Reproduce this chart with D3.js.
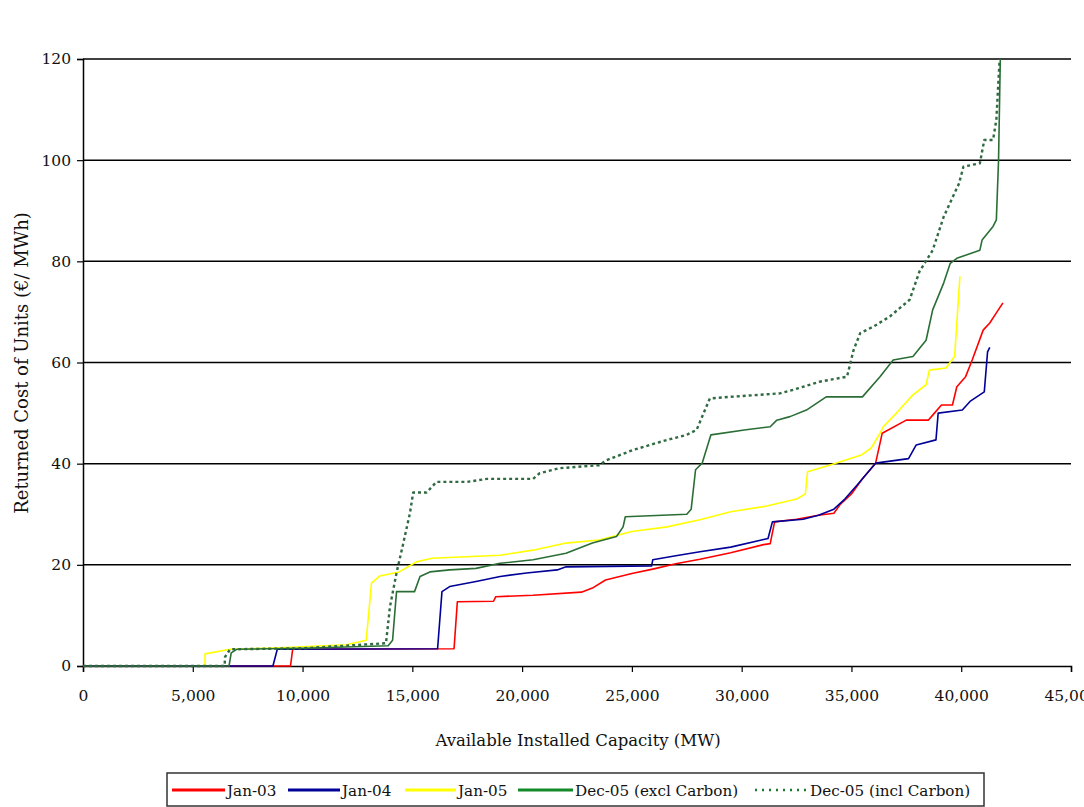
<!DOCTYPE html>
<html>
<head>
<meta charset="utf-8">
<script src="https://cdn.jsdelivr.net/npm/d3@7/dist/d3.min.js"></script>
<style>
  html, body { margin: 0; padding: 0; background: #fff; }
  svg { display: block; }
  text { font-family: "DejaVu Serif", "Liberation Serif", serif; fill: #111; }
</style>
</head>
<body>
<svg id="chart" width="1084" height="807"></svg>
<script>
// ---- Data (MW, €/MWh) ----
const seriesNames = ["Jan-03", "Jan-04", "Jan-05", "Dec-05 (excl Carbon)", "Dec-05 (incl Carbon)"];
const xTicks = [0, 5000, 10000, 15000, 20000, 25000, 30000, 35000, 40000, 45000];
const yTicks = [0, 20, 40, 60, 80, 100, 120];

const jan03 = [[0,0],[9450,0],[9550,3.3],[16900,3.4],[17050,12.7],[18700,12.8],[18800,13.7],[20500,14],[22700,14.6],[23200,15.4],[23800,17],[25000,18.3],[26000,19.2],[27000,20.2],[28100,21.1],[29500,22.4],[31000,24],[31300,24.2],[31500,28.5],[32500,29],[33500,29.8],[34200,30.2],[34500,32],[35000,34],[35500,37],[36100,40.1],[36400,46],[37500,48.6],[38500,48.6],[38700,49.6],[39100,51.6],[39600,51.6],[39800,55.2],[40200,57.2],[40500,60.5],[41000,66.4],[41300,67.8],[41600,69.8],[41900,71.8]];

const jan04 = [[0,0],[8650,0],[8850,3.3],[16150,3.4],[16350,14.7],[16700,15.7],[17900,16.7],[19000,17.7],[20200,18.4],[21600,19],[22000,19.6],[25900,19.8],[25950,21],[27000,21.8],[28100,22.6],[29500,23.5],[31000,25],[31200,25.2],[31400,28.5],[32800,29],[33500,29.8],[34200,31],[34700,33],[35300,36],[36100,40.1],[37600,41],[37950,43.7],[38850,44.7],[38950,50],[40050,50.6],[40400,52.3],[41050,54.2],[41200,62.1],[41300,63]];

const jan05 = [[0,0],[5550,0],[5560,2.4],[6700,3.3],[9000,3.6],[12000,4.2],[12900,5.1],[13140,16.4],[13520,17.8],[14400,18.6],[15200,20.6],[15900,21.3],[19000,21.9],[20500,22.9],[22000,24.3],[23500,24.9],[25000,26.6],[26600,27.5],[28100,28.9],[29500,30.5],[31000,31.5],[32500,33],[32900,34],[33000,38.4],[34000,39.7],[35450,41.7],[35900,43.1],[36300,46],[36450,47.3],[37050,50],[37800,53.6],[38400,55.6],[38550,58.5],[39300,58.9],[39700,61.2],[39940,77]];

const dec05excl = [[0,0],[6650,0],[6750,2.6],[7000,3.3],[10000,3.5],[13900,4],[14100,5.1],[14280,14.7],[15100,14.7],[15350,17.7],[15800,18.6],[16700,19],[17900,19.3],[19000,20.3],[20500,21],[22000,22.3],[23200,24.3],[24300,25.6],[24600,27.5],[24700,29.5],[27500,30],[27700,31],[27900,38.8],[28200,40.1],[28600,45.7],[30200,46.7],[31300,47.3],[31600,48.6],[32200,49.3],[32950,50.6],[33850,53.2],[35500,53.2],[36300,57.2],[36900,60.5],[37800,61.2],[38400,64.4],[38700,70.4],[39200,75.7],[39500,79.6],[39800,80.6],[40850,82.2],[40950,84.2],[41450,86.9],[41600,88.2],[41700,100],[41780,120]];

const dec05incl = [[0,0],[6450,0],[6470,1.8],[6700,3.3],[10000,3.5],[13800,4.5],[13980,11.7],[14280,18.4],[14590,24.3],[14890,30.2],[15040,34.3],[15650,34.3],[16100,36.4],[17500,36.4],[18400,37],[20500,37],[20800,38.1],[21700,39.1],[23500,39.7],[23850,40.7],[25050,42.7],[26600,44.7],[27500,45.7],[27950,46.7],[28550,52.9],[29450,53.2],[31750,53.9],[32350,54.6],[33550,56.2],[34800,57.2],[35100,62.5],[35400,65.8],[36000,67.1],[36750,69.1],[37650,72.4],[38100,78],[38700,82.2],[39200,88.8],[39900,95.4],[40100,98.7],[40850,99.4],[41050,104],[41450,104],[41600,108],[41750,120]];

// ---- Layout & style ----
const colors = ["#ff0000", "#000099", "#ffff00", "#2a6e35", "#2f6a40"];
const svg = d3.select("#chart");
const mLeft = 83, mRight = 1071, mTop = 59, mBottom = 666;

const x = d3.scaleLinear().domain([0, 45000]).range([mLeft, mRight]);
const y = d3.scaleLinear().domain([0, 120]).range([mBottom, mTop]);

// gridlines
svg.append("g").selectAll("line").data(yTicks.filter(d => d > 0)).join("line")
  .attr("x1", mLeft).attr("x2", mRight)
  .attr("y1", d => y(d)).attr("y2", d => y(d))
  .attr("stroke", "#000").attr("stroke-width", 1.5);

// axes
const yAxis = svg.append("g").attr("transform", `translate(${mLeft},0)`)
  .call(d3.axisLeft(y).tickValues(yTicks).tickSize(6).tickPadding(6).tickFormat(d3.format("d")));
const xAxis = svg.append("g").attr("transform", `translate(0,${mBottom})`)
  .call(d3.axisBottom(x).tickValues(xTicks).tickSize(6).tickPadding(18).tickFormat(d3.format(",")));
[yAxis, xAxis].forEach(g => {
  g.select(".domain").attr("stroke", "#000").attr("stroke-width", 1.5);
  g.selectAll(".tick line").attr("stroke", "#000").attr("stroke-width", 1.2);
  g.selectAll("text").style("font-family", '"DejaVu Serif", serif').style("font-size", "15.5px").attr("fill", "#222");
});

// axis titles
svg.append("text").attr("x", 578).attr("y", 746).attr("text-anchor", "middle")
  .style("font-size", "16.5px").text("Available Installed Capacity (MW)");
svg.append("text").attr("transform", "translate(28,363) rotate(-90)").attr("text-anchor", "middle")
  .style("font-size", "18px").text("Returned Cost of Units (€/ MWh)");

// lines
const line = d3.line().x(d => x(d[0])).y(d => y(d[1]));
const order = [
  { data: jan05, i: 2 },
  { data: jan03, i: 0 },
  { data: jan04, i: 1 },
  { data: dec05incl, i: 4, dash: "3,3", w: 2.4 },
  { data: dec05excl, i: 3 }
];
svg.append("g").selectAll("path").data(order).join("path")
  .attr("d", d => line(d.data))
  .attr("fill", "none")
  .attr("stroke", d => colors[d.i])
  .attr("stroke-width", d => d.w || 1.6)
  .attr("stroke-dasharray", d => d.dash || null)
  .attr("stroke-linejoin", "round");

// legend
const leg = svg.append("g");
leg.append("rect").attr("x", 167).attr("y", 773).attr("width", 817).attr("height", 33)
  .attr("fill", "#fff").attr("stroke", "#333").attr("stroke-width", 1.5);
const legItems = [
  { x: 172, tx: 227 },
  { x: 288, tx: 342 },
  { x: 405, tx: 458 },
  { x: 518, tx: 575 },
  { x: 755, tx: 810 }
];
legItems.forEach((p, i) => {
  leg.append("line").attr("x1", p.x).attr("x2", p.tx - 2).attr("y1", 790).attr("y2", 790)
    .attr("stroke", i === 4 ? "#1a7a30" : (i === 3 ? "#138a2a" : colors[i])).attr("stroke-width", i === 4 ? 2.4 : 3)
    .attr("stroke-dasharray", i === 4 ? "2,5" : null);
  leg.append("text").attr("x", p.tx).attr("y", 795.5).style("font-size", "15.2px").text(seriesNames[i]);
});
</script>
</body>
</html>
